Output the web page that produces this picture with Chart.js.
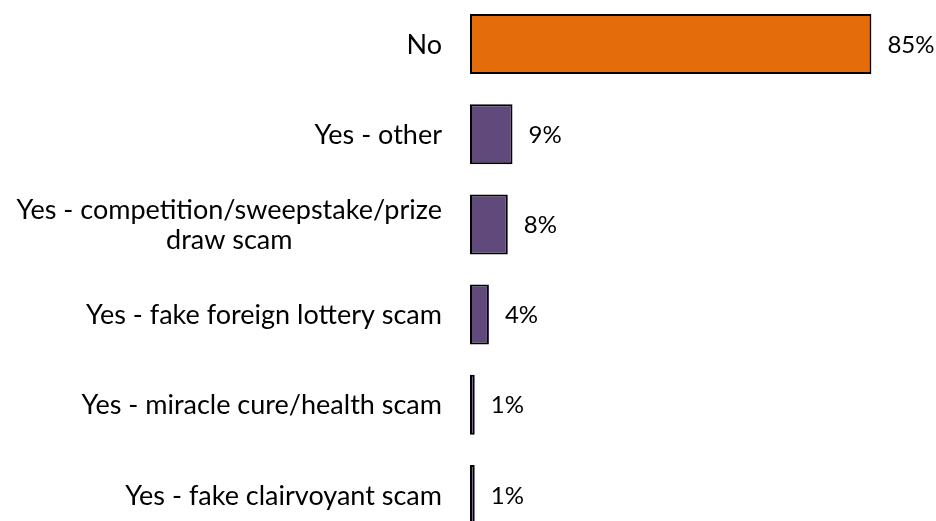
<!DOCTYPE html>
<html>
<head>
<meta charset="utf-8">
<script src="https://cdn.jsdelivr.net/npm/chart.js@4.4.1/dist/chart.umd.min.js"></script>
<style>
  html, body { margin: 0; padding: 0; background: #ffffff; overflow: hidden; }
  #wrap { position: absolute; left: 0; top: -1px; width: 936px; height: 541px; }
</style>
</head>
<body>
<div id="wrap"><canvas id="chart" width="936" height="541"></canvas></div>
<script>
// Responses: were you targeted by any of these scams?
const categories = [
  ['No'],
  ['Yes - other'],
  ['Yes - competition/sweepstake/prize', 'draw scam'],
  ['Yes - fake foreign lottery scam'],
  ['Yes - miracle cure/health scam'],
  ['Yes - fake clairvoyant scam']
];
const shares = [85, 9, 8, 4, 1, 1];
const barColors = ['#E46C0A', '#604A7B', '#604A7B', '#604A7B', '#604A7B', '#604A7B'];

const FONT = 'Lato, "Open Sans", sans-serif';
const LABEL_SIZE = 27;
const VALUE_SIZE = 24;

// Category names on the left: right-aligned blocks, lines centred within a block
const categoryLabels = {
  id: 'categoryLabels',
  afterDraw(chart) {
    const ctx = chart.ctx;
    const y = chart.scales.y;
    const rightEdge = chart.chartArea.left - 28;
    const lineH = 30;
    ctx.save();
    ctx.font = LABEL_SIZE + 'px ' + FONT;
    ctx.fillStyle = '#000000';
    ctx.textBaseline = 'middle';
    ctx.textAlign = 'center';
    categories.forEach((lines, i) => {
      const cy = y.getPixelForValue(i) + 1;
      const w = Math.max(...lines.map(l => ctx.measureText(l).width));
      const cx = rightEdge - w / 2;
      const top = cy - (lines.length - 1) * lineH / 2;
      lines.forEach((l, k) => ctx.fillText(l, cx, top + k * lineH));
    });
    ctx.restore();
  }
};

// Percentage next to the end of each bar
const valueLabels = {
  id: 'valueLabels',
  afterDatasetsDraw(chart) {
    const ctx = chart.ctx;
    const meta = chart.getDatasetMeta(0);
    ctx.save();
    ctx.font = VALUE_SIZE + 'px ' + FONT;
    ctx.fillStyle = '#000000';
    ctx.textBaseline = 'middle';
    ctx.textAlign = 'left';
    meta.data.forEach((bar, i) => {
      ctx.fillText(shares[i] + '%', bar.x + 16, bar.y + 1);
    });
    ctx.restore();
  }
};

new Chart(document.getElementById('chart'), {
  type: 'bar',
  data: {
    labels: categories,
    datasets: [{
      data: shares,
      backgroundColor: barColors,
      borderColor: '#000000',
      borderWidth: 2,
      borderSkipped: false,
      barPercentage: 0.665,
      categoryPercentage: 1
    }]
  },
  options: {
    indexAxis: 'y',
    responsive: false,
    animation: false,
    devicePixelRatio: 1,
    layout: { padding: { top: 0, bottom: 0, left: 0, right: 41 } },
    plugins: { legend: { display: false }, tooltip: { enabled: false } },
    scales: {
      x: {
        min: 0, max: 90,
        display: false,
        grid: { display: false }
      },
      y: {
        grid: { display: false },
        border: { display: false },
        ticks: { display: false },
        afterFit(scale) { scale.width = 470; }
      }
    }
  },
  plugins: [categoryLabels, valueLabels]
});
</script>
</body>
</html>
